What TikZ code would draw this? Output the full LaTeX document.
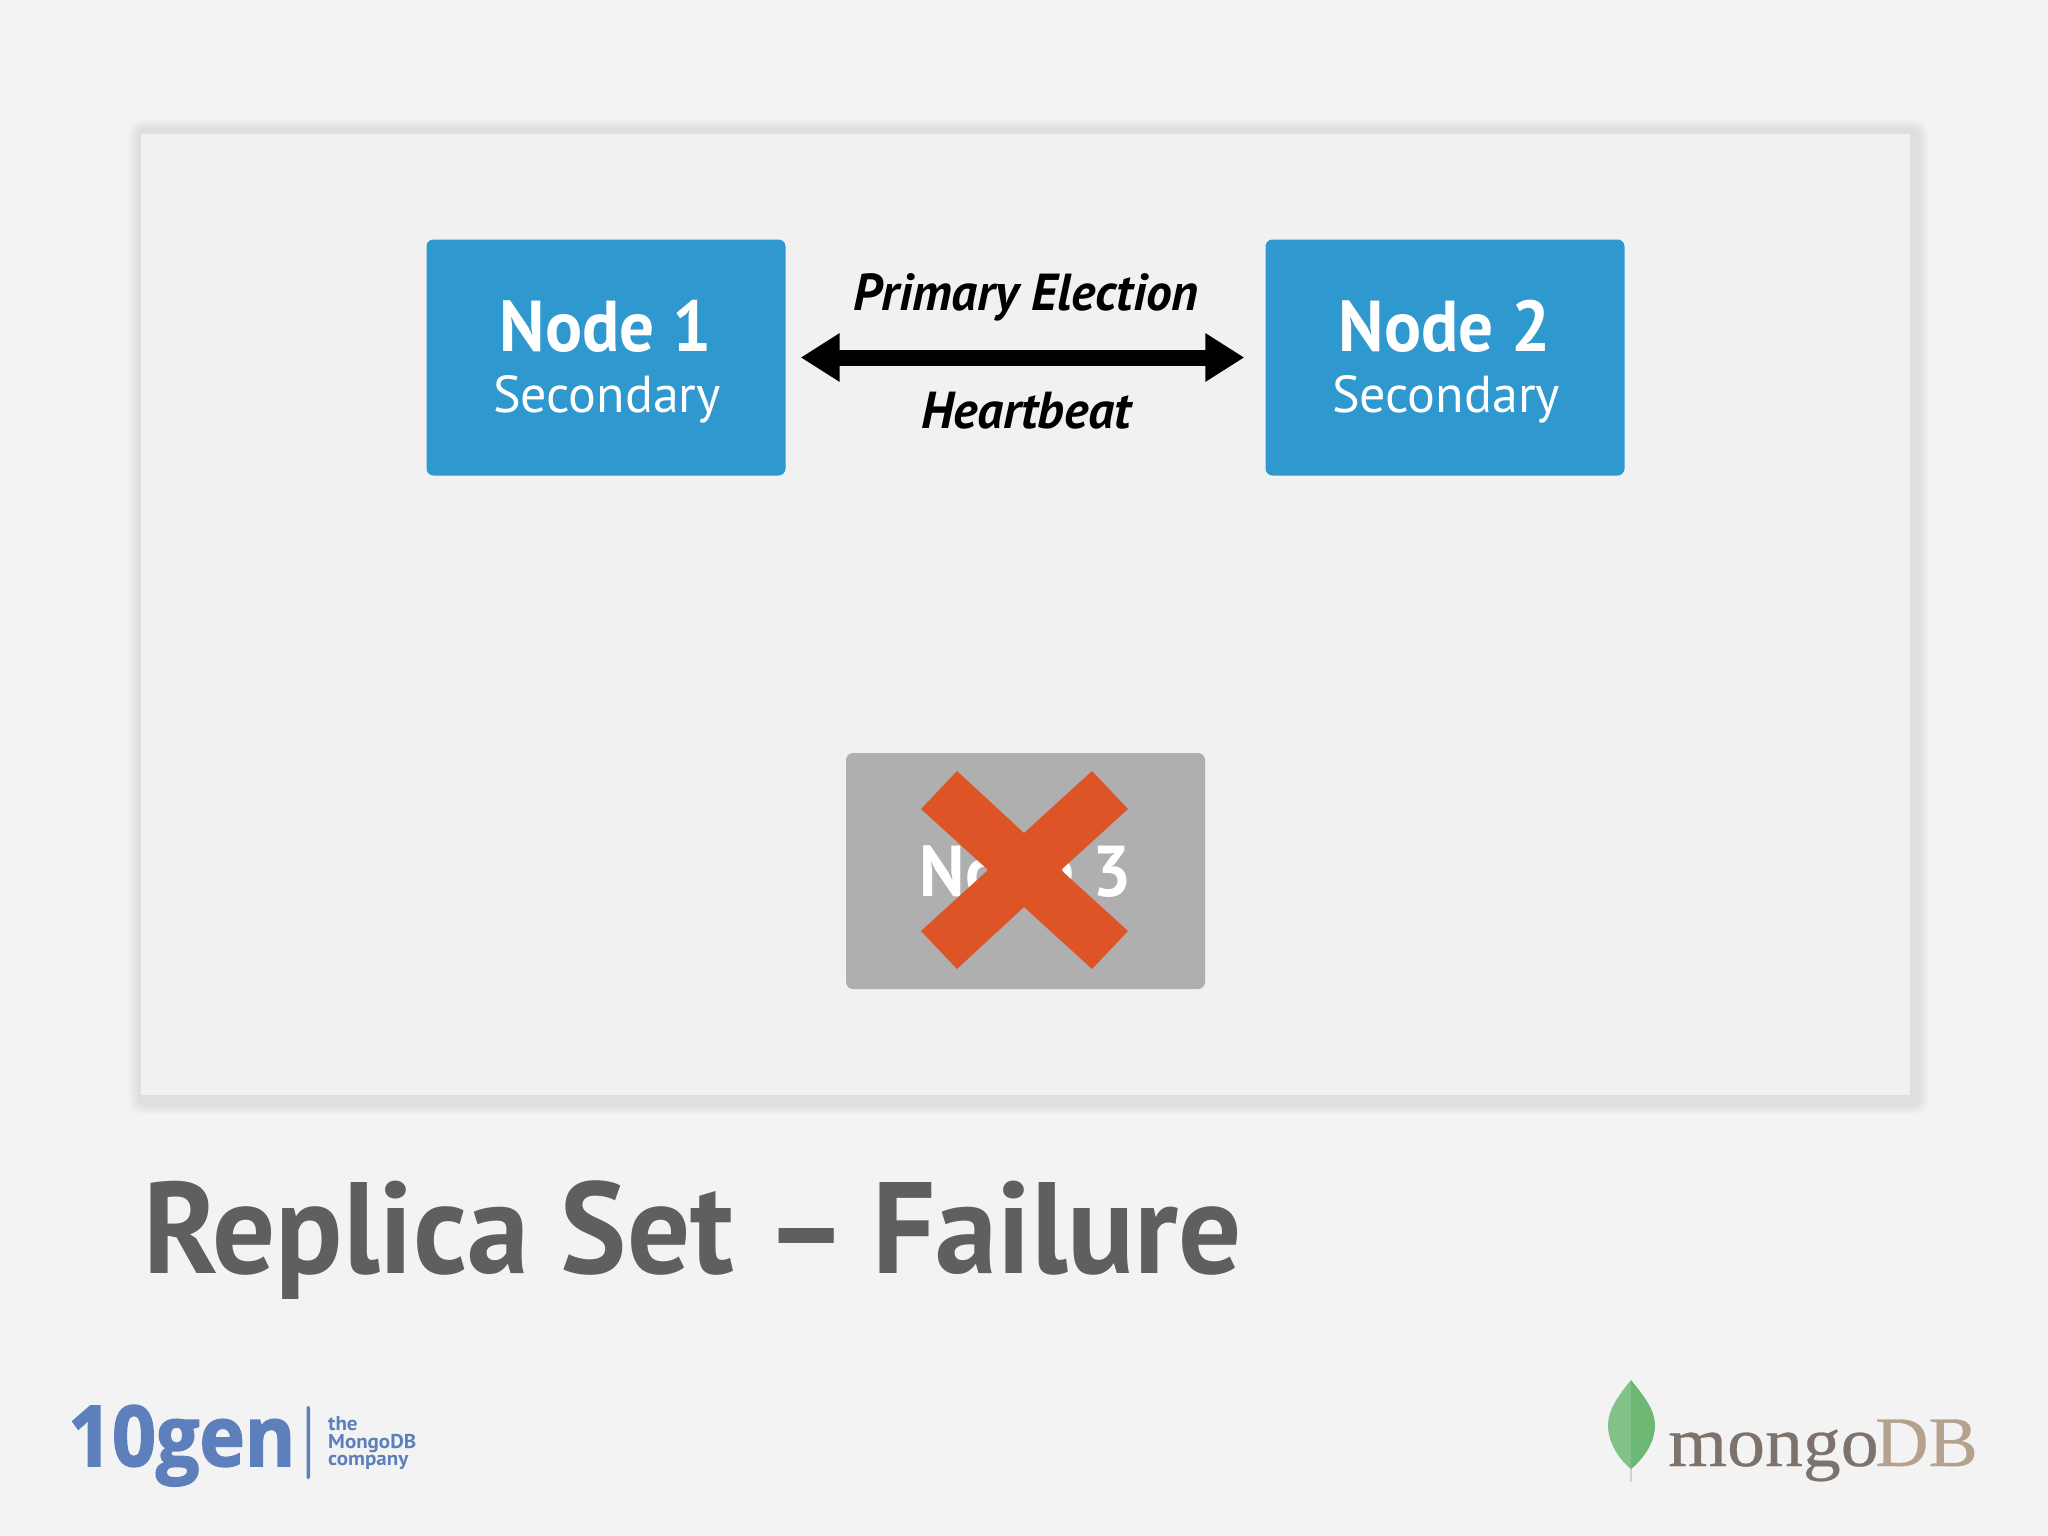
\documentclass[tikz,border=0pt]{standalone}
\usepackage{fontspec}
\setmainfont{PT Sans}
\newfontfamily\tengenfont[FakeBold=2]{Open Sans Bold}
\newfontfamily\mdbfont[FakeBold=0.4]{Liberation Serif}
\usetikzlibrary{arrows.meta}
\definecolor{bgc}{HTML}{F3F3F4}
\definecolor{panelc}{HTML}{F1F1F2}
\definecolor{bluec}{HTML}{2F98CE}
\definecolor{grayc}{HTML}{B0AFB0}
\definecolor{crossc}{HTML}{DD5527}
\definecolor{titlec}{HTML}{5F5F5F}
\definecolor{tenc}{HTML}{5D80BD}
\definecolor{mongoc}{HTML}{7D726C}
\definecolor{dbc}{HTML}{B4A18E}
\definecolor{leafl}{HTML}{82C286}
\definecolor{leafr}{HTML}{6CB872}
\newcommand{\fs}[1]{\fontsize{#1}{#1}\selectfont}
\newcommand{\sx}[2]{\scalebox{#1}[1]{#2}}
\tikzset{
 nodebox/.style={rounded corners=7pt,minimum width=359pt,minimum height=236pt,inner sep=0pt,fill=bluec,draw=none},
 nodename/.style={anchor=base,inner sep=0pt,text=white,font=\fs{72}\bfseries},
 noderole/.style={anchor=base,inner sep=0pt,text=white,font=\fs{52}},
 linklabel/.style={anchor=base,inner sep=0pt,text=black,font=\fs{52}\bfseries\itshape},
 plain/.style={anchor=base west,inner sep=0pt},
 shadowring/.style={black,opacity=.016},
}
\begin{document}
\begin{tikzpicture}[x=1pt,y=-1pt]
\useasboundingbox (0,0) rectangle (2048,1536);
\fill[bgc] (0,0) rectangle (2048,1536);
% panel shadow
\fill[shadowring,rounded corners=12pt] (129,120) rectangle (1928,1114);
\fill[shadowring,rounded corners=11pt] (131,122) rectangle (1926,1112);
\fill[shadowring,rounded corners=10pt] (133,124) rectangle (1924,1110);
\fill[shadowring,rounded corners=9pt] (135,126) rectangle (1922,1108);
\fill[shadowring,rounded corners=8pt] (137,128) rectangle (1920,1106);
\fill[panelc] (141,134) rectangle (1910,1095);
% nodes
\node[nodebox] (n1) at (606,357.5) {};
\node[nodebox] (n2) at (1445,357.5) {};
\node[nodebox,fill=grayc] (n3) at (1025.5,871) {};
\node[nodename] (n1t) at (605.5,351) {\sx{.96}{Node 1}};
\node[noderole] (n1r) at (607,412) {Secondary};
\node[nodename] (n2t) at (1444.5,351) {\sx{.96}{Node 2}};
\node[noderole] (n2r) at (1446,412) {Secondary};
\node[nodename] (n3t) at (1025.5,896.5) {\sx{.96}{Node 3}};
% cross
\fill[crossc] (957,771) -- (1024,833) -- (1092,771) -- (1128,809) -- (1061,870) -- (1128,931)
  -- (1092,969) -- (1024,907) -- (957,969) -- (921,931) -- (988,870) -- (921,809) -- cycle;
% link
\draw[line width=16pt,{Triangle[length=39pt,width=46pt]}-{Triangle[length=39pt,width=46pt]},shorten <=15pt,shorten >=21pt] (n1) -- (n2);
\node[linklabel] (l1) at (1026,310) {\sx{.99}{Primary Election}};
\node[linklabel] (l2) at (1026,428) {\sx{.995}{Heartbeat}};
% title
\node[plain,text=titlec,font=\fs{130}\bfseries] (title) at (143,1273) {\sx{.96}{Replica Set –\hspace{-7.5pt} Failure}};
% 10gen
\node[plain,text=tenc,font=\fs{84}\tengenfont] (ten) at (68,1466) {\sx{.915}{10gen}};
\fill[tenc,rounded corners=1.5pt] (306.5,1406) rectangle (310,1479);
\node[plain,text=tenc,font=\fs{20}\bfseries] (the) at (328,1430) {\sx{1.05}{the}};
\node[plain,text=tenc,font=\fs{20}\bfseries] (mdb) at (328,1448) {\sx{1.05}{MongoDB}};
\node[plain,text=tenc,font=\fs{20}\bfseries] (comp) at (328,1465) {\sx{1.05}{company}};
% mongoDB
\draw[line width=2.5pt,draw=black!18] (1631,1460) -- (1631,1482);
\fill[leafl] (1631,1380) .. controls (1618,1396) and (1608,1410) .. (1608,1425) .. controls (1608,1444) and (1620,1460) .. (1631,1469) -- cycle;
\fill[leafr] (1631,1380) .. controls (1644,1396) and (1655,1410) .. (1655,1425) .. controls (1655,1444) and (1642,1460) .. (1631,1469) -- cycle;
\node[plain,text=mongoc,font=\fs{71}\mdbfont] (mg) at (1668,1466) {\sx{1.067}{mongo}};
\node[plain,text=dbc,font=\fs{71}\mdbfont] (db) at (1875,1466) {\sx{1.04}{DB}};
\end{tikzpicture}
\end{document}
